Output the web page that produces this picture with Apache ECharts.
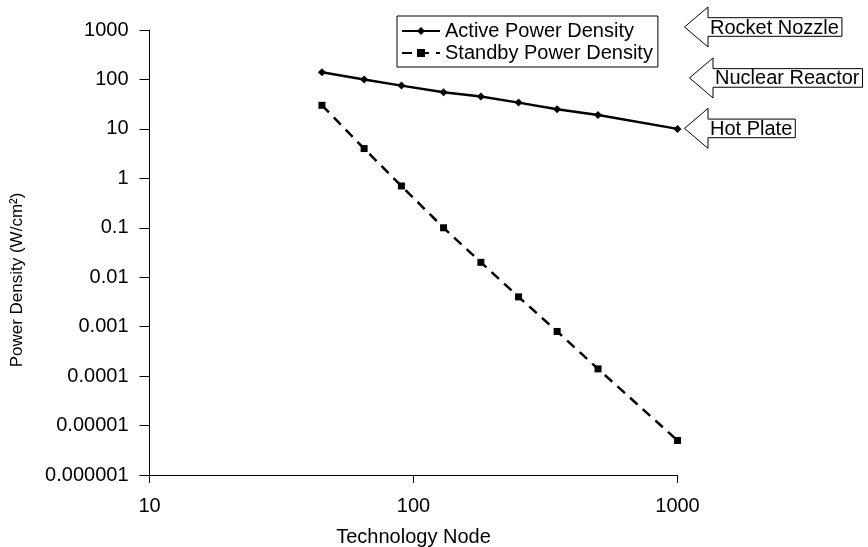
<!DOCTYPE html>
<html>
<head>
<meta charset="utf-8">
<script src="https://cdn.jsdelivr.net/npm/echarts@6/dist/echarts.min.js"></script>
<style>
  html, body { margin: 0; padding: 0; background: #fff; }
  #chart { width: 868px; height: 547px; }
</style>
</head>
<body>
<div id="chart"></div>
<script>
// Technology node (x) and power densities in W/cm² (y)
const techNodes = [45, 65, 90, 130, 180, 250, 350, 500, 1000];
const activeDensity = [140, 100, 75, 55, 45, 34, 25, 19, 10];
const standbyDensity = [30, 4, 0.7, 0.1, 0.02, 0.004, 0.0008, 0.00014, 0.000005];

// Tick labels, indexed by decade
const xTickLabels = ['10', '100', '1000'];
const yTickLabels = ['0.000001', '0.00001', '0.0001', '0.001', '0.01', '0.1', '1', '10', '100', '1000'];

// Reference power densities marked by arrows on the right
const referenceLabels = ['Rocket Nozzle', 'Nuclear Reactor', 'Hot Plate'];
const referenceLevels = [1000, 100, 10];

const seriesNames = ['Active Power Density', 'Standby Power Density'];

const FONT_FAMILY = '"Liberation Sans", Arial, Helvetica, sans-serif';

const chart = echarts.init(document.getElementById('chart'), null, { renderer: 'canvas' });

function pairs(xs, ys) {
  return xs.map((x, i) => [x, ys[i]]);
}

chart.setOption({
  animation: false,
  backgroundColor: '#fff',
  textStyle: { fontFamily: FONT_FAMILY, color: '#000' },
  grid: { left: 149.5, right: 190.5, top: 30, bottom: 72, containLabel: false, outerBoundsMode: 'none' },
  legend: {
    data: seriesNames,
    orient: 'vertical',
    left: 397,
    top: 16,
    padding: [4, 5, 3, 4],
    itemGap: 0,
    itemWidth: 38,
    itemHeight: 10,
    borderColor: '#000',
    borderWidth: 1,
    backgroundColor: '#fff',
    textStyle: { fontFamily: FONT_FAMILY, fontSize: 20, color: '#000', lineHeight: 22 }
  },
  xAxis: {
    type: 'log',
    logBase: 10,
    min: 10,
    max: 1000,
    name: 'Technology Node',
    nameLocation: 'middle',
    nameGap: 52,
    nameTextStyle: { fontFamily: FONT_FAMILY, fontSize: 20, color: '#000' },
    axisLine: { lineStyle: { color: '#000', width: 1 } },
    axisTick: { show: true, inside: false, length: 8, lineStyle: { color: '#000' } },
    axisLabel: {
      margin: 21,
      fontFamily: FONT_FAMILY,
      fontSize: 20,
      color: '#000',
      formatter: v => xTickLabels[Math.round(Math.log10(v)) - 1]
    },
    splitLine: { show: false },
    minorTick: { show: false }
  },
  yAxis: {
    type: 'log',
    logBase: 10,
    min: 0.000001,
    max: 1000,
    name: 'Power Density (W/cm²)',
    nameLocation: 'middle',
    nameGap: 124,
    nameRotate: 90,
    nameTextStyle: { fontFamily: FONT_FAMILY, fontSize: 17, color: '#000', padding: [0, 55, 0, 0] },
    axisLine: { lineStyle: { color: '#000', width: 1 } },
    axisTick: { show: true, inside: false, length: 10, lineStyle: { color: '#000' } },
    axisLabel: {
      margin: 21,
      fontFamily: FONT_FAMILY,
      fontSize: 20,
      color: '#000',
      formatter: v => yTickLabels[Math.round(Math.log10(v)) + 6]
    },
    splitLine: { show: false },
    minorTick: { show: false }
  },
  series: [
    {
      name: seriesNames[0],
      type: 'line',
      data: pairs(techNodes, activeDensity),
      symbol: 'diamond',
      symbolSize: 8,
      itemStyle: { color: '#000' },
      lineStyle: { color: '#000', width: 2.5, type: 'solid' }
    },
    {
      name: seriesNames[1],
      type: 'line',
      data: pairs(techNodes, standbyDensity),
      symbol: 'rect',
      symbolSize: 7,
      itemStyle: { color: '#000' },
      lineStyle: { color: '#000', width: 2.5, type: [10, 7] }
    }
  ]
});

// Arrow call-outs pointing at the reference levels on the right edge
const CALLOUT_FONT = '20px ' + FONT_FAMILY;
const measureCtx = document.createElement('canvas').getContext('2d');
measureCtx.font = CALLOUT_FONT;
const arrowOffsets = [[7, -3], [12, -1.5], [7, -0.5]];
const HEAD_DEPTH = 23.5, HEAD_HALF = 20, SHAFT_HALF = 9.3;

const callouts = referenceLabels.map((label, i) => {
  const p = chart.convertToPixel({ gridIndex: 0 }, [1000, referenceLevels[i]]);
  const tipX = p[0] + arrowOffsets[i][0];
  const cy = p[1] + arrowOffsets[i][1];
  const base = tipX + HEAD_DEPTH;
  const right = Math.min(base + measureCtx.measureText(label).width + 5, 867.5);
  return {
    type: 'group',
    children: [
      {
        type: 'polygon',
        shape: {
          points: [
            [tipX, cy], [base, cy - HEAD_HALF], [base, cy - SHAFT_HALF],
            [right, cy - SHAFT_HALF], [right, cy + SHAFT_HALF],
            [base, cy + SHAFT_HALF], [base, cy + HEAD_HALF]
          ]
        },
        style: { fill: '#fff', stroke: '#000', lineWidth: 1 }
      },
      {
        type: 'text',
        x: base + 2,
        y: cy + 1,
        style: { text: label, font: CALLOUT_FONT, fill: '#000', align: 'left', verticalAlign: 'middle' }
      }
    ]
  };
});

chart.setOption({ graphic: callouts });
</script>
</body>
</html>
